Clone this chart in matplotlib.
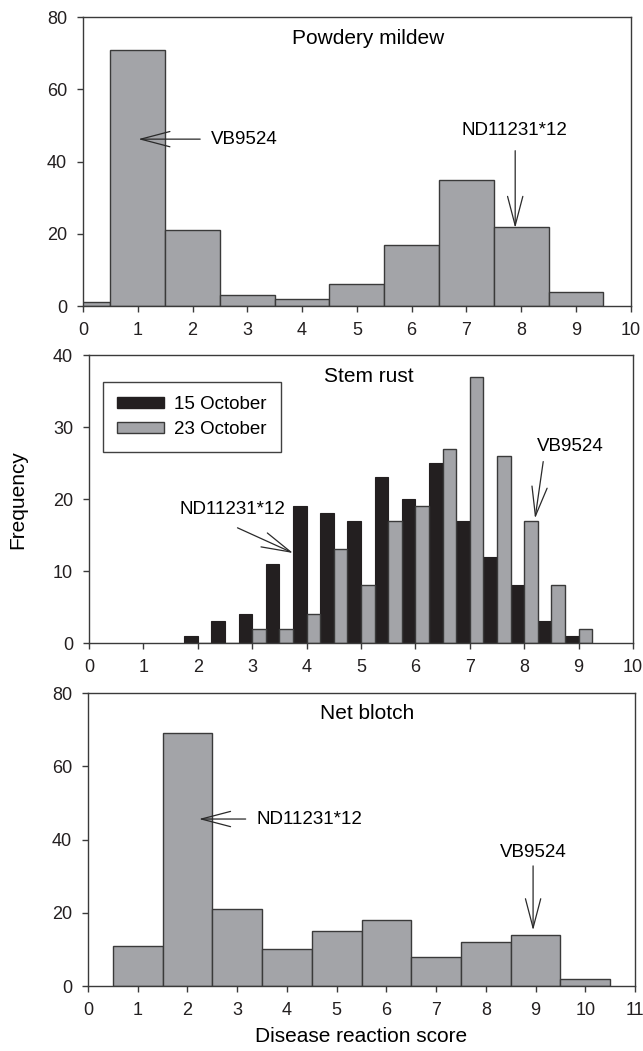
import matplotlib
matplotlib.use('Agg')
import matplotlib.pyplot as plt
from matplotlib.patches import Patch
import numpy as np

plt.rcParams['font.family'] = ['Liberation Sans', 'DejaVu Sans']

# ---------------- data ----------------
pm_scores = [0, 1, 2, 3, 4, 5, 6, 7, 8, 9]
pm_freq = [1, 71, 21, 3, 2, 6, 17, 35, 22, 4]

sr_scores = [2.0, 2.5, 3.0, 3.5, 4.0, 4.5, 5.0, 5.5, 6.0, 6.5, 7.0, 7.5, 8.0, 8.5, 9.0]
sr_oct15 = [1, 3, 4, 11, 19, 18, 17, 23, 20, 25, 17, 12, 8, 3, 1]
sr_oct23 = [0, 0, 2, 2, 4, 13, 8, 17, 19, 27, 37, 26, 17, 8, 2]
sr_labels = ['15 October', '23 October']

nb_scores = [1, 2, 3, 4, 5, 6, 7, 8, 9, 10]
nb_freq = [11, 69, 21, 10, 15, 18, 8, 12, 14, 2]

GRAY = '#a3a4a8'
BLACK = '#231f20'
EDGE = '#3a3a3a'
FS_TICK = 13
FS_ANN = 13.5
FS_TITLE = 15

fig = plt.figure(figsize=(6.43, 10.51), dpi=100)
ax1 = fig.add_axes([0.129, 0.7088, 0.852, 0.275])
ax2 = fig.add_axes([0.1384, 0.3882, 0.846, 0.274])
ax3 = fig.add_axes([0.1369, 0.0618, 0.8507, 0.2788])


def style(ax, xmax, ymax, ystep):
    ax.set_xlim(0, xmax)
    ax.set_ylim(0, ymax)
    ax.set_xticks(range(0, xmax + 1))
    ax.set_yticks(range(0, ymax + 1, ystep))
    for s in ax.spines.values():
        s.set_color(EDGE)
        s.set_linewidth(1.0)
    ax.tick_params(direction='out', length=4.5, width=1, color=EDGE,
                   labelsize=FS_TICK, pad=7, labelcolor='#231f20')


def arrow(ax, head, tail):
    ax.annotate('', xy=head, xytext=tail,
                arrowprops=dict(arrowstyle='->,head_length=2.1,head_width=0.55',
                                color='#2a2a2a', lw=0.9, shrinkA=0, shrinkB=0,
                                mutation_scale=10))


# ---------------- Powdery mildew ----------------
ax1.bar(pm_scores, pm_freq, width=1.0, color=GRAY, edgecolor=EDGE, linewidth=1.0)
style(ax1, 10, 80, 20)
ax1.text(0.52, 0.925, 'Powdery mildew', transform=ax1.transAxes,
         ha='center', va='center', fontsize=FS_TITLE)
arrow(ax1, (1.01, 46.2), (2.14, 46.2))
ax1.text(2.34, 46.2, 'VB9524', ha='left', va='center', fontsize=FS_ANN)
arrow(ax1, (7.89, 21.6), (7.89, 43.0))
ax1.text(7.87, 48.5, 'ND11231*12', ha='center', va='center', fontsize=FS_ANN)

# ---------------- Stem rust ----------------
x = np.array(sr_scores)
ax2.bar(x - 0.125, sr_oct15, width=0.25, color=BLACK, edgecolor=BLACK,
        linewidth=0.8, label=sr_labels[0])
ax2.bar(x + 0.125, sr_oct23, width=0.25, color=GRAY, edgecolor=EDGE,
        linewidth=1.0, label=sr_labels[1])
style(ax2, 10, 40, 10)
ax2.text(0.515, 0.925, 'Stem rust', transform=ax2.transAxes,
         ha='center', va='center', fontsize=FS_TITLE)
handles = [Patch(facecolor=BLACK, edgecolor=BLACK),
           Patch(facecolor=GRAY, edgecolor=EDGE)]
leg = ax2.legend(handles, sr_labels, loc='upper left', bbox_to_anchor=(0.026, 0.905),
                 borderaxespad=0, frameon=True, fancybox=False, fontsize=FS_ANN,
                 handlelength=2.5, handleheight=0.55, handletextpad=0.55,
                 labelspacing=0.4, borderpad=0.75)
leg.get_frame().set_edgecolor('#111111')
leg.get_frame().set_linewidth(1.0)
arrow(ax2, (3.75, 12.5), (2.73, 16.0))
ax2.text(2.64, 18.5, 'ND11231*12', ha='center', va='center', fontsize=FS_ANN)
arrow(ax2, (8.2, 17.3), (8.35, 25.2))
ax2.text(8.84, 27.3, 'VB9524', ha='center', va='center', fontsize=FS_ANN)

# ---------------- Net blotch ----------------
ax3.bar(nb_scores, nb_freq, width=1.0, color=GRAY, edgecolor=EDGE, linewidth=1.0)
style(ax3, 11, 80, 20)
ax3.text(0.51, 0.93, 'Net blotch', transform=ax3.transAxes,
         ha='center', va='center', fontsize=FS_TITLE)
arrow(ax3, (2.23, 45.6), (3.17, 45.6))
ax3.text(3.38, 45.6, 'ND11231*12', ha='left', va='center', fontsize=FS_ANN)
arrow(ax3, (8.95, 15.2), (8.95, 32.8))
ax3.text(8.95, 36.5, 'VB9524', ha='center', va='center', fontsize=FS_ANN)

fig.text(0.028, 1 - 500 / 1051, 'Frequency', rotation=90, ha='center', va='center',
         fontsize=FS_TITLE)
fig.text(361 / 643, 1 - 1036 / 1051, 'Disease reaction score', ha='center', va='center',
         fontsize=FS_TITLE)

fig.savefig('out.png', dpi=100)
